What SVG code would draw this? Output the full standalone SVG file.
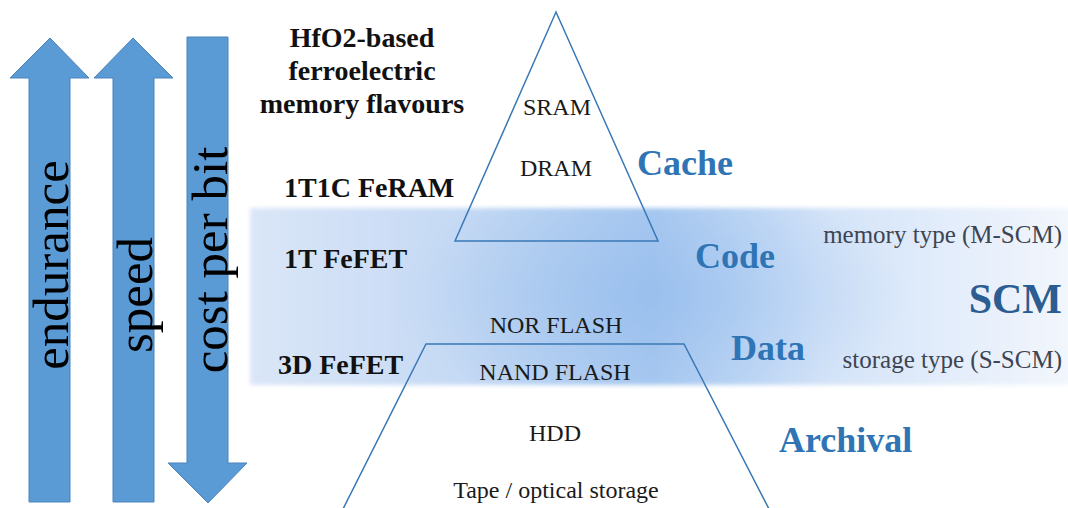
<svg xmlns="http://www.w3.org/2000/svg" width="1068" height="508" viewBox="0 0 1068 508">
  <style>
    text { font-family: "Liberation Serif", "Times New Roman", serif; }
    .arrow { fill: #5b9bd5; stroke: #4a83bd; stroke-width: 1; }
    .arrlbl { font-size: 51px; fill: #000; text-anchor: middle; }
    .flav { font-size: 28px; font-weight: bold; fill: #111; }
    .mem { font-size: 24px; fill: #1a1a1a; text-anchor: middle; }
    .cat { font-size: 36px; font-weight: bold; fill: #2f75b5; }
    .scm { font-size: 25px; fill: #3d4452; text-anchor: end; }
    .shape { fill: none; stroke: #3a78b5; stroke-width: 1.5; stroke-linejoin: miter; }
  </style>
  <defs>
    <linearGradient id="bandH" gradientUnits="userSpaceOnUse" x1="250" y1="0" x2="1068" y2="0">
      <stop offset="0" stop-color="#dae6f8"/>
      <stop offset="0.25" stop-color="#c6daf4"/>
      <stop offset="0.49" stop-color="#a9c9f0"/>
      <stop offset="0.7" stop-color="#d3e3f8"/>
      <stop offset="1" stop-color="#f2f6fd"/>
    </linearGradient>
    <radialGradient id="bandR" gradientUnits="userSpaceOnUse" cx="650" cy="295" r="200" gradientTransform="translate(650 295) scale(1.3 0.6) translate(-650 -295)">
      <stop offset="0" stop-color="#8ab6ec" stop-opacity="0.5"/>
      <stop offset="1" stop-color="#8ab6ec" stop-opacity="0"/>
    </radialGradient>
    <filter id="soft" x="-0.02" y="-0.1" width="1.04" height="1.2">
      <feGaussianBlur stdDeviation="2"/>
    </filter>
  </defs>

  <rect width="1068" height="508" fill="#ffffff"/>

  <g id="scm-band" filter="url(#soft)">
    <rect x="250" y="208" width="830" height="177" fill="url(#bandH)"/>
    <rect x="250" y="208" width="830" height="177" fill="url(#bandR)"/>
  </g>

  <g id="arrow-endurance">
    <path class="arrow" d="M29,502 L29,78 L10,78 L50,38 L89,78 L70,78 L70,502 Z"/>
    <text class="arrlbl" transform="translate(68,265) rotate(-90)">endurance</text>
  </g>
  <g id="arrow-speed">
    <path class="arrow" d="M113,502 L113,78 L94,78 L133,38 L173,78 L154,78 L154,502 Z"/>
    <text class="arrlbl" transform="translate(152,295) rotate(-90)">speed</text>
  </g>
  <g id="arrow-cost">
    <path class="arrow" d="M187,37 L228,37 L228,463 L247,463 L208,503 L168,463 L187,463 Z"/>
    <text class="arrlbl" transform="translate(227,260) rotate(-90)">cost per bit</text>
  </g>

  <g id="flavours-title">
    <text class="flav" x="362" y="47" text-anchor="middle">HfO2-based</text>
    <text class="flav" x="362" y="80" text-anchor="middle">ferroelectric</text>
    <text class="flav" x="362" y="113" text-anchor="middle">memory flavours</text>
  </g>
  <g id="flavour-1t1c"><text class="flav" x="284" y="197">1T1C FeRAM</text></g>
  <g id="flavour-1t"><text class="flav" x="284" y="268">1T FeFET</text></g>
  <g id="flavour-3d"><text class="flav" x="278" y="374">3D FeFET</text></g>

  <g id="pyramid-top">
    <path class="shape" d="M556,12 L658,241 L455,241 Z"/>
    <text class="mem" x="557" y="115">SRAM</text>
    <text class="mem" x="556" y="176">DRAM</text>
  </g>

  <g id="pyramid-bottom">
    <path class="shape" d="M343,509 L426,344 L684,344 L769,509"/>
    <text class="mem" x="556" y="333">NOR FLASH</text>
    <text class="mem" x="555" y="380">NAND FLASH</text>
    <text class="mem" x="555" y="441">HDD</text>
    <text class="mem" x="556" y="498">Tape / optical storage</text>
  </g>

  <g id="category-cache"><text class="cat" x="637" y="175">Cache</text></g>
  <g id="category-code"><text class="cat" x="695" y="268">Code</text></g>
  <g id="category-data"><text class="cat" x="731" y="360">Data</text></g>
  <g id="category-archival"><text class="cat" x="779" y="452">Archival</text></g>

  <g id="scm-labels">
    <text class="scm" x="1062" y="243">memory type (M-SCM)</text>
    <text x="1062" y="313" text-anchor="end" font-size="42" font-weight="bold" fill="#2b5d92">SCM</text>
    <text class="scm" x="1062" y="368">storage type (S-SCM)</text>
  </g>
</svg>
